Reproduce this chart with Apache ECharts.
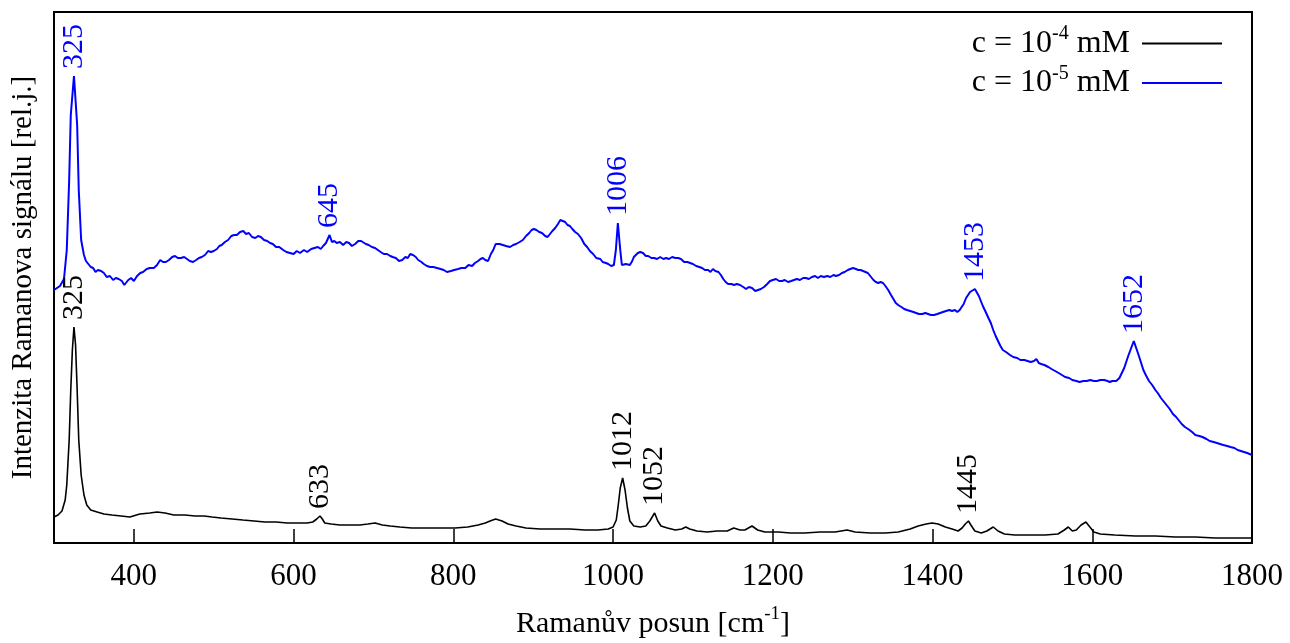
<!DOCTYPE html>
<html>
<head>
<meta charset="utf-8">
<title>Ramanova spektra</title>
<script src="https://cdn.jsdelivr.net/npm/echarts@6/dist/echarts.min.js"></script>
<style>
  html, body { margin: 0; padding: 0; background: #fff; }
  #chart { width: 1290px; height: 643px; }
</style>
</head>
<body>
<div id="chart"></div>
<script>
// Raman shift (cm^-1) and relative intensity, c = 1e-4 mM
const shiftLow = [300,305,310,314,316,319,321,323,325,327,329,331,334,337.5,341,346,354,362.5,372.5,384,395,407.5,420,429,439,450,464,476.5,488,498,509,523,536.5,550.5,564,578,592,604,617,624,629,633,636,639,647,658,671,683,693,702,711,721,733,748,765,783,802,818,831,840,846,853,861,868.5,878.5,891,908.5,927.5,946,965,981,994,1000,1004,1006.5,1009,1012,1015,1018,1021,1026,1034,1041,1046,1052,1056,1060,1068,1078,1086,1091,1096,1105,1118,1130,1143,1151,1159,1165,1174,1181,1190,1207,1222,1240,1259,1278,1293,1303,1322,1341,1357,1372,1382,1392,1399.5,1407,1416,1424.5,1432,1437,1441,1445,1448,1453,1461,1468,1476,1482,1490,1503,1522,1541,1557,1565,1570,1575,1580,1586,1592,1597,1602,1610,1628,1654,1679,1704,1729,1754,1779,1800];
const intensityLow = [26,28,32,43,58,103,153,193,216,198,153,103,68,48,38,33,31,29,28,27,26,29,30,31,30,28,28,27,27,26,25,24,23,22,21,21,20,20,20,21,24,27,24,20,19,18,18,18,19,20,18,17,16,15,15,15,15,16,18,20,22,24,22,19,17,15,14,14,14,13,13,14,16,23,38,55,65,53,35,22,17,16,17,22,30,22,17,15,13,14,16,14,12,11,12,12,15,13,13,17,13,11,11,10,10,11,11,13,11,10,10,11,14,17,19,20,19,16,14,12,15,19,22,18,12,10,12,16,12,9,8,8,8,9,13,16,12,13,18,21,16,11,9,8,7,7,6,6,5,5,5];

// Raman shift (cm^-1) and relative intensity, c = 1e-5 mM
const shiftHigh = [
  300,307.5,312.5,316,319,321,325,329,331,334,337.5,
  340,342.5,346,349,352,355,359,362.5,366,370,
  374,377.5,381,385,388,390,393,396.5,400,404,
  408,411.5,416,420,425,429,433,436.5,440,444,
  448,451.5,455,459,463,466.5,470,474,478,481.5,
  485,489,493,496.5,500,504,507,510,514,518,
  522,525.5,529,533,537,540.5,544,548,552,555.5,
  559,563,567,570.5,574,578,582,587,591,595.5,
  600,604,608,613,617,622,626,630.5,634,637,
  640.5,645,648,651,654,658,662,666,669.5,673,
  677,681,684.5,687,690.5,694,698,702,705.5,709,
  713,717,721,724,728,732,736,740,743,746,
  749.5,753,756,760,763,767,771,775,779.5,784,
  788,792,797,801,806,810,815,819,823.5,827,
  831,834,837,840,843.5,847,850,853,855,858,
  862,866,871,875,878.5,883,887,891,895,898,
  901,904,907.5,911,915,918,921,924,927.5,931,
  934,937,940,943,946,949,952.5,956,960,964,
  967.5,971,975,979,984,987,991,994,997.5,1001,
  1003.5,1006,1009,1011,1013,1016,1018,1021,1024,1026,
  1028,1031,1034,1037.5,1041,1044,1048,1051.5,1055,1059,
  1063,1066.5,1070,1074,1078,1081.5,1085,1089,1093,1096.5,
  1100,1104,1108,1111.5,1115,1119,1122,1125,1128,1132,
  1135,1138,1141,1144,1148,1151.5,1155,1159,1163,1166.5,
  1170,1174,1178,1181.5,1185,1189,1193,1196.5,1200,1204,
  1208,1211.5,1215,1219,1223,1226.5,1230,1234,1238,1241.5,
  1245,1249,1253,1256.5,1260,1264,1268,1272,1276,1279,
  1283,1286.5,1290,1294,1297,1300.5,1304,1307,1310,1313,
  1316,1319,1322,1326,1329,1332,1335,1338,1341,1344.5,
  1348,1351,1354,1357,1361,1364.5,1368,1372,1376,1379.5,
  1383,1387,1391,1394.5,1398,1402,1406,1409.5,1413,1417,
  1421,1424.5,1428,1431,1434,1436,1439,1442,1447,1453,
  1458,1463,1466,1470,1473,1476,1479,1482,1485,1488,
  1492,1497,1501,1506,1510,1515,1519,1523,1527,1530,
  1533,1536,1540,1545,1549,1553.5,1558,1562,1566,1571,
  1575,1580,1584,1589,1593,1597.5,1602,1606,1610,1615,
  1619,1622,1625,1627,1630,1634,1640,1645,1652,1658,
  1664,1667,1671,1675,1679,1682,1686,1690,1694,1697,
  1701,1705,1709,1712,1716,1720,1725,1729,1734,1738,
  1743,1747,1752,1756,1760,1764,1769,1773,1778,1782,
  1786,1790,1794,1797,1800
];
const intensityHigh = [
  253,257,264,293,363,428,467,418,353,303,288,
  282,280,276,275,271,273,272,270,266,267,
  263,265,264,262,258,260,263,265,262,267,
  270,271,274,275,275,278,283,281,281,283,
  286,287,285,285,286,284,282,281,283,285,
  286,288,292,291,292,294,297,298,301,303,
  307,308,308,311,312,309,310,306,305,307,
  306,303,302,300,299,296,296,293,291,290,
  289,292,290,293,291,294,295,296,294,297,
  300,308,301,302,300,301,298,301,300,297,
  299,302,302,304,299,298,296,295,293,291,
  289,289,287,286,285,282,283,286,285,289,
  288,286,283,281,279,277,276,276,275,274,
  273,271,272,273,274,275,275,278,277,280,
  282,284,285,283,282,289,293,299,300,299,
  298,297,296,298,299,301,303,307,310,313,
  314,313,311,310,307,306,309,312,315,319,
  323,322,321,318,317,314,311,309,305,299,
  296,292,289,285,284,281,280,279,277,278,
  293,320,293,278,276,279,277,278,282,286,
  288,290,291,290,287,287,285,285,284,286,
  284,285,284,286,285,285,284,281,281,280,
  279,277,276,275,273,273,271,274,272,271,
  268,264,261,259,259,258,259,258,256,254,
  256,255,252,253,254,256,259,262,263,264,
  262,262,263,261,262,263,264,263,265,265,
  264,266,267,265,267,266,267,266,268,267,
  268,270,271,273,274,275,274,273,273,272,
  271,270,267,263,261,260,261,260,257,253,
  248,244,240,238,236,234,233,232,231,230,
  229,229,230,229,228,228,229,230,231,232,
  233,232,233,231,233,235,239,245,251,254,
  247,237,232,225,220,213,207,202,197,193,
  191,188,186,185,183,183,182,181,182,184,
  180,179,178,176,174,172,170,168,166,165,
  163,162,161,162,162,163,162,162,163,163,
  162,161,162,160,162,165,175,187,202,188,
  173,168,162,158,153,150,145,141,137,134,
  129,126,122,119,116,114,111,108,107,106,
  104,102,101,100,99,98,97,96,95,93,
  92,91,90,89,88
];

// Labelled band positions (cm^-1)
const peaksLow = [325, 633, 1012, 1052, 1445];
const peaksHigh = [325, 645, 1006, 1453, 1652];

// Axis tick values and titles
const xTicks = [400, 600, 800, 1000, 1200, 1400, 1600, 1800];
const nameLow = 'c = 10^-4 mM';
const nameHigh = 'c = 10^-5 mM';
const xTitle = '{n|Ramanův posun [cm}{s|-1}{n|]}';
const yTitle = 'Intenzita Ramanova signálu [rel.j.]';

const FONT = "Liberation Serif";
const BLACK = '#000000';
const BLUE = '#0000ff';

function pairs(xs, ys) {
  return xs.map((x, i) => [x, ys[i]]);
}
function peakPoints(xs, ys, peaks) {
  return peaks.map(p => [p, ys[xs.indexOf(p)]]);
}
// Vertical band labels placed just above each labelled maximum
function peakLabelSeries(data, color) {
  return {
    type: 'custom',
    data: data,
    silent: true,
    z: 5,
    renderItem: (params, api) => {
      const pt = api.coord([api.value(0), api.value(1)]);
      return {
        type: 'text',
        x: pt[0],
        y: pt[1] - 7,
        rotation: Math.PI / 2,
        style: {
          text: String(api.value(0)),
          font: '30px "Liberation Serif", serif',
          fill: color,
          align: 'left',
          verticalAlign: 'middle'
        }
      };
    }
  };
}

const supRich = {
  n: { fontFamily: FONT, fontSize: 30, color: '#000', lineHeight: 38 },
  s: { fontFamily: FONT, fontSize: 19, color: '#000', lineHeight: 22, verticalAlign: 'top' },
  e: { fontFamily: FONT, fontSize: 30, color: '#000', lineHeight: 38, padding: [0, 7, 0, 0] }
};
const legendRich = {
  n: { fontFamily: FONT, fontSize: 32, color: '#000', lineHeight: 39 },
  s: { fontFamily: FONT, fontSize: 20, color: '#000', lineHeight: 22, verticalAlign: 'top' },
  e: { fontFamily: FONT, fontSize: 32, color: '#000', lineHeight: 39, padding: [0, 7, 0, 0] }
};

const chart = echarts.init(document.getElementById('chart'), null, { renderer: 'canvas' });

chart.setOption({
  animation: false,
  backgroundColor: '#ffffff',
  textStyle: { fontFamily: FONT, color: '#000' },
  grid: {
    left: 54, right: 38, top: 12, bottom: 100,
    outerBoundsMode: 'none',
    containLabel: false,
    show: true, borderColor: '#000', borderWidth: 2, backgroundColor: 'transparent'
  },
  legend: {
    data: [nameLow, nameHigh],
    orient: 'vertical',
    right: 63,
    top: 19,
    align: 'right',
    icon: 'rect',
    itemWidth: 80,
    itemHeight: 2,
    itemGap: 4,
    formatter: name => {
      const exp = name.split('^')[1].split(' ')[0];
      return '{n|c = 10}{s|' + exp + '}{e| mM}';
    },
    textStyle: { rich: legendRich }
  },
  xAxis: {
    type: 'value',
    min: 300,
    max: 1800,
    name: xTitle,
    nameLocation: 'middle',
    nameGap: 62,
    nameTextStyle: { rich: supRich },
    axisLine: { show: true, lineStyle: { color: '#000', width: 2 } },
    axisTick: {
      show: true, inside: true, length: 14,
      customValues: xTicks,
      lineStyle: { color: '#000', width: 1.5 }
    },
    axisLabel: {
      customValues: xTicks,
      formatter: v => String(v),
      margin: 18,
      fontFamily: FONT, fontSize: 31, color: '#000'
    },
    splitLine: { show: false }
  },
  yAxis: {
    type: 'value',
    min: 0,
    max: 531,
    name: yTitle,
    nameLocation: 'middle',
    nameRotate: 90,
    nameGap: 16,
    nameTextStyle: { fontFamily: FONT, fontSize: 29, color: '#000' },
    axisLine: { show: false },
    axisTick: { show: false },
    axisLabel: { show: false },
    splitLine: { show: false }
  },
  series: [
    {
      name: nameLow,
      type: 'line',
      data: pairs(shiftLow, intensityLow),
      showSymbol: false,
      symbol: 'none',
      color: BLACK,
      lineStyle: { color: BLACK, width: 1.6 },
      z: 3
    },
    {
      name: nameHigh,
      type: 'line',
      data: pairs(shiftHigh, intensityHigh),
      showSymbol: false,
      symbol: 'none',
      color: BLUE,
      lineStyle: { color: BLUE, width: 2 },
      z: 4
    },
    peakLabelSeries(peakPoints(shiftLow, intensityLow, peaksLow), BLACK),
    peakLabelSeries(peakPoints(shiftHigh, intensityHigh, peaksHigh), BLUE)
  ]
});
</script>
</body>
</html>
